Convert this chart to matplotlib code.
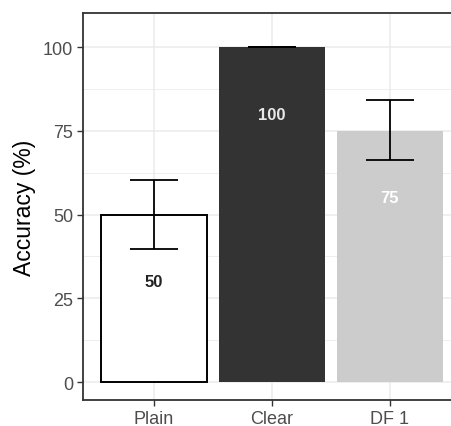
import matplotlib
matplotlib.use("Agg")
import matplotlib.pyplot as plt
from matplotlib.ticker import MultipleLocator

plt.rcParams['font.family'] = ['Liberation Sans', 'DejaVu Sans']

categories = ["Plain", "Clear", "DF 1"]
accuracy = [50, 100, 75]
err_low = [10.3, 0, 8.8]
err_high = [10.3, 0, 9.2]
fill_colors = ["#FFFFFF", "#333333", "#CCCCCC"]
label_colors = ["#222222", "#E8E8E8", "#FFFFFF"]
label_offset = 20

fig = plt.figure(figsize=(4.52, 4.27), dpi=100)
ax = fig.add_axes([83/452, 26/427, 377.6/452, 387/427])

x = list(range(1, len(categories) + 1))
edge = ["black", "none", "none"]
for xi, v, fc, ec in zip(x, accuracy, fill_colors, edge):
    ax.bar(xi, v, width=0.9, color=fc, edgecolor=ec, linewidth=1.4, zorder=3)

ax.errorbar(x, accuracy, yerr=[err_low, err_high], fmt='none', ecolor='black',
            elinewidth=1.3, capsize=17.5, capthick=1.3, zorder=4)

for xi, v, tc in zip(x, accuracy, label_colors):
    ax.text(xi, v - label_offset, str(v), ha='center', va='center', color=tc,
            fontsize=12, fontweight='bold', zorder=5)

ax.set_xlim(0.4, 3.6)
ax.set_ylim(-5.37, 110.15)
ax.set_xticks(x)
ax.set_xticklabels(categories)
ax.yaxis.set_major_locator(MultipleLocator(25))
ax.yaxis.set_minor_locator(MultipleLocator(12.5))
ax.set_yticks([0, 25, 50, 75, 100])

ax.grid(which='major', color='#EBEBEB', linewidth=1.1, zorder=0)
ax.grid(which='minor', axis='y', color='#EBEBEB', linewidth=0.6, zorder=0)
ax.set_axisbelow(True)

ax.tick_params(axis='both', which='major', length=4, width=1, color='#333333',
               labelcolor='#4D4D4D', labelsize=13, pad=3)
ax.tick_params(axis='y', which='minor', length=0)

for s in ax.spines.values():
    s.set_color('#333333')
    s.set_linewidth(1.3)

ax.set_ylabel("Accuracy (%)", fontsize=16.5, color='black', labelpad=5)

fig.savefig("out.png", dpi=100)
